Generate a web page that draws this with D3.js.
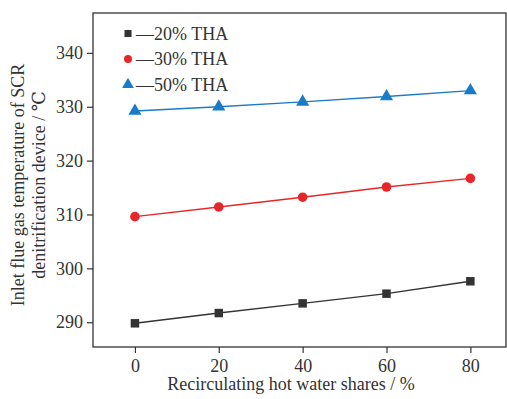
<!DOCTYPE html>
<html lang="en">
<head>
<meta charset="utf-8">
<script src="https://d3js.org/d3.v7.min.js"></script>
<style>
body{margin:0;background:#fff;}
text{font-family:"Liberation Serif","DejaVu Serif",serif;fill:#333;}
</style>
</head>
<body>
<div id="chart"></div>
<script>
var shares = [0, 20, 40, 60, 80]
var seriesNames = ["—20% THA", "—30% THA", "—50% THA"]
var tha20 = [289.8, 291.7, 293.5, 295.3, 297.6]
var tha30 = [309.6, 311.4, 313.2, 315.1, 316.7]
var tha50 = [329.2, 330.0, 330.9, 331.9, 333.0]
var yTicks = [290, 300, 310, 320, 330, 340]
var xTicks = [0, 20, 40, 60, 80]

var w = 507, h = 399
var padL = 93, padT = 13, padR = 506, padB = 347

var svg = d3.select("#chart").append("svg").attr("width", w).attr("height", h)

var xScale = d3.scaleLinear().domain([-10, 88.5]).range([padL, padR])
var yScale = d3.scaleLinear().domain([285.4, 347.4]).range([padB, padT])

var series = [
    {name: seriesNames[0], values: tha20, color: "#333333", shape: d3.symbolSquare},
    {name: seriesNames[1], values: tha30, color: "#e8262a", shape: d3.symbolCircle},
    {name: seriesNames[2], values: tha50, color: "#1a7cc7", shape: d3.symbolTriangle}
]

// frame
svg.append("rect").attr("x", padL).attr("y", padT)
    .attr("width", padR - padL).attr("height", padB - padT)
    .attr("fill", "none").attr("stroke", "#333").attr("stroke-width", 1.3)

var xAxis = d3.axisBottom(xScale).tickValues(xTicks).tickSize(6).tickPadding(6)
var yAxis = d3.axisLeft(yScale).tickValues(yTicks).tickSize(6).tickPadding(4)

var gx = svg.append("g").attr("transform", "translate(0," + padB + ")").call(xAxis)
var gy = svg.append("g").attr("transform", "translate(" + padL + ",0)").call(yAxis)
gx.select(".domain").remove()
gy.select(".domain").remove()
svg.selectAll(".tick line").attr("stroke", "#333").attr("stroke-width", 1.2)
svg.selectAll(".tick text").style("font-size", "18px").attr("fill", "#333")

var line = d3.line().x(function(d, i){ return xScale(shares[i]) }).y(function(d){ return yScale(d) })

series.forEach(function(s){
    svg.append("path").datum(s.values).attr("d", line)
        .attr("fill", "none").attr("stroke", s.color).attr("stroke-width", 1.4)
    svg.selectAll(null).data(s.values).enter().append("path")
        .attr("d", d3.symbol().type(s.shape).size(s.shape === d3.symbolTriangle ? 75 : 72))
        .attr("transform", function(d, i){ return "translate(" + xScale(shares[i]) + "," + yScale(d) + ")" })
        .attr("fill", s.color)
})

// legend
series.forEach(function(s, i){
    var ly = 33.5 + i * 25.5
    svg.append("path").attr("d", d3.symbol().type(s.shape).size(s.shape === d3.symbolTriangle ? 60 : 50))
        .attr("transform", "translate(128," + ly + ")").attr("fill", s.color)
    svg.append("text").attr("x", 136).attr("y", ly + 6)
        .style("font-size", "18px").text(s.name)
})

// axis titles
svg.append("text").attr("x", 291).attr("y", 390)
    .attr("text-anchor", "middle").style("font-size", "18px")
    .text("Recirculating hot water shares / %")

var yt = svg.append("text").attr("transform", "translate(0,185) rotate(-90)")
    .attr("text-anchor", "middle").style("font-size", "18px")
yt.append("tspan").attr("x", 0).attr("y", 24).text("Inlet flue gas temperature of SCR")
yt.append("tspan").attr("x", 0).attr("y", 45).text("denitrification device / \u2103")
</script>
</body>
</html>
